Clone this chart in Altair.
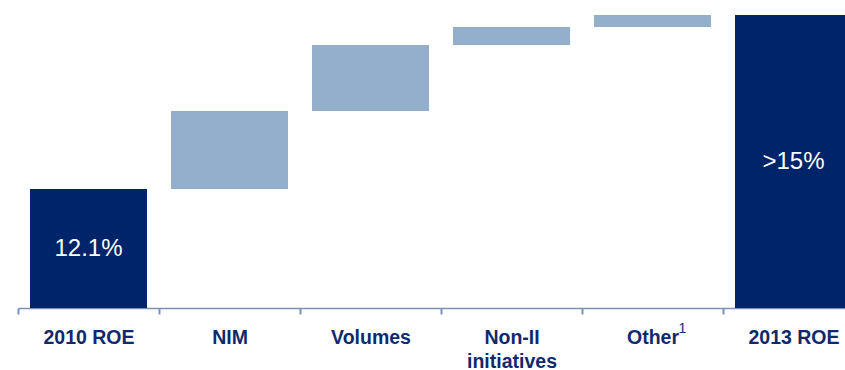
import altair as alt
import pandas as pd

# Waterfall: ROE bridge from 2010 to 2013 (percentage points)
categories = ["2010 ROE", "NIM", "Volumes", "Non-II initiatives", "Other", "2013 ROE"]
changes = [12.1, 1.3, 1.1, 0.3, 0.2, 15.0]
kinds = ["total", "step", "step", "step", "step", "total"]
bar_labels = ["12.1%", "", "", "", "", ">15%"]

Y_MIN, Y_MAX = 10.12, 15.25

DARK = "#002469"
LIGHT = "#93afcc"
AXIS = "#7d91b6"
TEXT = "#0f2a6c"
FONT = "Liberation Sans"

rows = []
running = 0.0
for cat, val, kind, lab in zip(categories, changes, kinds, bar_labels):
    if kind == "total":
        start, end = 0.0, val
        running = val
    else:
        start, end = running, running + val
        running = end
    rows.append({
        "cat": cat, "start": start, "end": end, "kind": kind, "label": lab,
        "mid": (max(start, Y_MIN) + end) / 2,
    })
df = pd.DataFrame(rows)

x_enc = alt.X(
    "cat:N",
    sort=categories,
    scale=alt.Scale(range=[0, 846], paddingInner=0, paddingOuter=0),
    axis=alt.Axis(
        title=None,
        labelAngle=0,
        labelFont=FONT,
        labelFontSize=19.5,
        labelFontWeight="bold",
        labelColor=TEXT,
        labelPadding=14,
        labelLineHeight=24,
        labelExpr="datum.value == 'Non-II initiatives' ? ['Non-II', 'initiatives'] : datum.label",
        domainColor=AXIS,
        domainWidth=1.5,
        tickColor=AXIS,
        tickWidth=2,
        tickSize=6,
        tickBand="extent",
        grid=False,
    ),
)

y_scale = alt.Scale(domain=[Y_MIN, Y_MAX], zero=False, nice=False)

bars = alt.Chart(df).mark_bar(
    width=alt.RelativeBandSize(117 / 141), clip=True
).encode(
    x=x_enc,
    y=alt.Y("start:Q", scale=y_scale, axis=None),
    y2="end:Q",
    color=alt.Color(
        "kind:N",
        scale=alt.Scale(domain=["total", "step"], range=[DARK, LIGHT]),
        legend=None,
    ),
)

values = alt.Chart(df).mark_text(
    font=FONT, fontSize=24, color="white", baseline="middle", align="center"
).encode(
    x=alt.X("cat:N", sort=categories),
    y=alt.Y("mid:Q", scale=y_scale),
    text="label:N",
)

note = alt.Chart(pd.DataFrame({"cat": ["Other"], "mark": ["1"]})).mark_text(
    font=FONT, fontSize=14, color=TEXT, baseline="alphabetic", align="center", dx=30
).encode(
    x=alt.X("cat:N", sort=categories),
    y=alt.value(333),
    text="mark:N",
)

chart = alt.layer(bars, values, note).properties(
    width=827,
    height=308,
    autosize=alt.AutoSizeParams(type="none"),
    padding={"left": 18, "top": 0, "right": 0, "bottom": 62},
).configure_view(stroke=None)

chart.save("out.html", embed_options={"renderer": "svg", "actions": False})
